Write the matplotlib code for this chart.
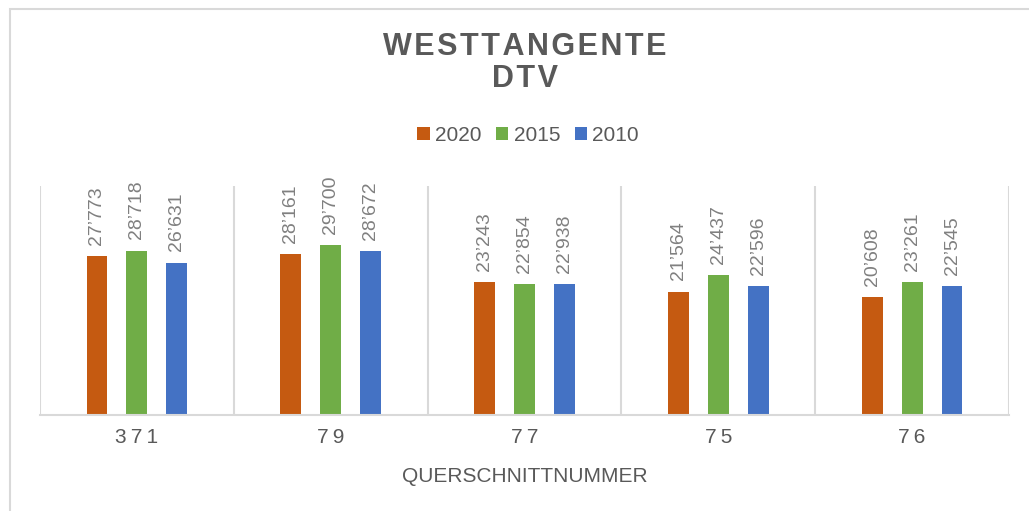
import numpy as np
import matplotlib.pyplot as plt
from matplotlib.patches import Rectangle

# data
categories = ['371', '79', '77', '75', '76']
years = ['2020', '2015', '2010']
v2020 = [27773, 28161, 23243, 21564, 20608]
v2015 = [28718, 29700, 22854, 24437, 23261]
v2010 = [26631, 28672, 22938, 22596, 22545]
colors = ['#C55A11', '#70AD47', '#4472C4']

plt.rcParams['font.family'] = ['Liberation Sans', 'DejaVu Sans']
W, H = 1029, 511
fig = plt.figure(figsize=(W/100, H/100), dpi=100)


def spaced(s, sep='\u200a'):
    # Excel draws these labels with extra letter spacing
    return sep.join(s)


# outer chart frame (cut off at right/bottom like the screenshot)
fig.patches.append(Rectangle((10/W, -0.1), 1.2, 1 - 9/H + 0.1, transform=fig.transFigure,
                             fill=False, edgecolor='#D9D9D9', linewidth=1.5))

ax = fig.add_axes([40/W, 1 - 415/H, (1009-40)/W, (415-186)/H])
x = np.arange(len(categories))
off = 0.206
wid = 0.108
for i, (vals, yr) in enumerate(zip([v2020, v2015, v2010], years)):
    bars = ax.bar(x + (i-1)*off, vals, wid, color=colors[i], label=yr)
    for b, v in zip(bars, vals):
        ax.annotate(f"{v:,}".replace(',', '\u2019'), (b.get_x() + b.get_width()/2, v),
                    xytext=(0, 8), textcoords='offset points',
                    rotation=90, ha='center', va='bottom', fontsize=14, color='#808080')

ax.set_xlim(-0.5, len(categories) - 0.5)
ax.set_ylim(0, 40000)
ax.set_yticks([])
ax.set_xticks(x)
ax.set_xticklabels([spaced(c, '\u2009') for c in categories], fontsize=15, color='#595959')
ax.tick_params(axis='x', length=0, pad=9)
for s in ['top', 'left', 'right']:
    ax.spines[s].set_visible(False)
ax.spines['bottom'].set_color('#D9D9D9')
ax.spines['bottom'].set_linewidth(1.5)
for b in np.arange(-0.5, len(categories) + 0.5, 1):
    ax.axvline(b, color='#D9D9D9', linewidth=1.5)

ax.set_xlabel('QUERSCHNITTNUMMER', fontsize=15, color='#595959', labelpad=15)

fig.text(525/W, 1 - 63/H, spaced('WESTTANGENTE') + '\n' + spaced('DTV'),
         ha='center', va='center', fontsize=22, fontweight='bold', color='#595959',
         linespacing=1.1)

fig.legend(loc='center', bbox_to_anchor=(528/W, 1 - 135/H), ncol=3, frameon=False,
           fontsize=15, handlelength=0.6, handleheight=0.6, handletextpad=0.25,
           columnspacing=0.7, labelcolor='#595959')

fig.savefig('out.png', dpi=100)
